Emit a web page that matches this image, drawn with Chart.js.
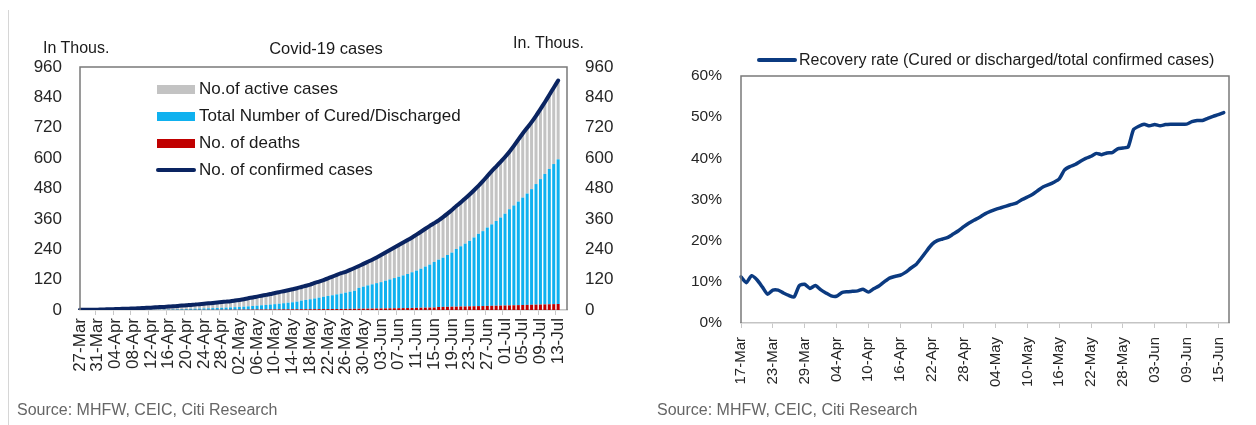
<!DOCTYPE html>
<html>
<head>
<meta charset="utf-8">
<script src="https://cdn.jsdelivr.net/npm/chart.js@4.4.1/dist/chart.umd.min.js"></script>
<style>
  html, body { margin: 0; padding: 0; background: #fff; }
  body { width: 1256px; height: 425px; position: relative; overflow: hidden;
         font-family: 'Liberation Sans', Arial, sans-serif; color: #1a1a1a; }
  canvas { position: absolute; top: 0; }
  .t { position: absolute; white-space: nowrap; line-height: 20px; }
  .sw { position: absolute; }
</style>
</head>
<body>
<div style="position:absolute;left:8px;top:10px;width:1px;height:415px;background:#d6d6d6"></div>

<canvas id="cases" width="640" height="425" style="left:0"></canvas>
<canvas id="recovery" width="616" height="425" style="left:640px"></canvas>

<!-- left chart texts -->
<div class="t" style="left:43px;top:38px;font-size:16px">In Thous.</div>
<div class="t" style="left:326px;top:38px;font-size:16.5px;transform:translateX(-50%)">Covid-19 cases</div>
<div class="t" style="left:513px;top:33px;font-size:16px">In. Thous.</div>

<div class="sw" style="left:157px;top:84.5px;width:38px;height:9px;background:#c3c3c3"></div>
<div class="t" style="left:199px;top:79px;font-size:17px">No.of active cases</div>
<div class="sw" style="left:157px;top:111.5px;width:38px;height:9px;background:#0fb1ef"></div>
<div class="t" style="left:199px;top:106px;font-size:17px">Total Number of Cured/Discharged</div>
<div class="sw" style="left:157px;top:138.5px;width:38px;height:9px;background:#c00000"></div>
<div class="t" style="left:199px;top:133px;font-size:17px">No. of deaths</div>
<div class="sw" style="left:156px;top:168.3px;width:40px;height:3.5px;border-radius:2px;background:#0a2461"></div>
<div class="t" style="left:199px;top:160px;font-size:17px">No. of confirmed cases</div>

<div class="t" style="left:17px;top:399.5px;font-size:16px;color:#666">Source: MHFW, CEIC, Citi Research</div>

<!-- right chart texts -->
<div class="sw" style="left:757px;top:57.7px;width:40px;height:4px;border-radius:2px;background:#0b3a80"></div>
<div class="t" style="left:799px;top:49.5px;font-size:16px">Recovery rate (Cured or discharged/total confirmed cases)</div>

<div class="t" style="left:657px;top:399.5px;font-size:16px;color:#666">Source: MHFW, CEIC, Citi Research</div>

<script>
// ---- left chart: cases in thousands, 27-Mar .. 13-Jul (axis runs to 15-Jul)
const caseDates = [
  '27-Mar','28-Mar','29-Mar','30-Mar','31-Mar',
  '01-Apr','02-Apr','03-Apr','04-Apr','05-Apr','06-Apr','07-Apr','08-Apr','09-Apr','10-Apr',
  '11-Apr','12-Apr','13-Apr','14-Apr','15-Apr','16-Apr','17-Apr','18-Apr','19-Apr','20-Apr',
  '21-Apr','22-Apr','23-Apr','24-Apr','25-Apr','26-Apr','27-Apr','28-Apr','29-Apr','30-Apr',
  '01-May','02-May','03-May','04-May','05-May','06-May','07-May','08-May','09-May','10-May',
  '11-May','12-May','13-May','14-May','15-May','16-May','17-May','18-May','19-May','20-May',
  '21-May','22-May','23-May','24-May','25-May','26-May','27-May','28-May','29-May','30-May','31-May',
  '01-Jun','02-Jun','03-Jun','04-Jun','05-Jun','06-Jun','07-Jun','08-Jun','09-Jun','10-Jun',
  '11-Jun','12-Jun','13-Jun','14-Jun','15-Jun','16-Jun','17-Jun','18-Jun','19-Jun','20-Jun',
  '21-Jun','22-Jun','23-Jun','24-Jun','25-Jun','26-Jun','27-Jun','28-Jun','29-Jun','30-Jun',
  '01-Jul','02-Jul','03-Jul','04-Jul','05-Jul','06-Jul','07-Jul','08-Jul','09-Jul','10-Jul',
  '11-Jul','12-Jul','13-Jul','14-Jul','15-Jul'
];

const confirmedCases = [
  0.89, 0.99, 1.02, 1.25, 1.40,
  2.00, 2.54, 3.06, 3.59, 4.29, 4.78, 5.31, 5.92, 6.73, 7.60,
  8.45, 9.21, 10.45, 11.49, 12.32, 13.43, 14.35, 15.72, 17.62, 18.54,
  20.08, 21.37, 23.08, 24.53, 26.28, 27.89, 29.45, 31.32, 33.06, 34.86,
  37.26, 39.70, 42.51, 46.44, 49.40, 52.99, 56.35, 59.66, 62.94, 67.15,
  70.76, 74.28, 78.00, 81.97, 85.94, 90.93, 95.70, 100.33, 106.75, 112.36,
  118.45, 124.79, 131.87, 138.85, 145.38, 150.79, 158.33, 165.80, 173.76, 182.14, 190.54,
  198.71, 207.62, 216.92, 226.77, 236.66, 246.63, 256.61, 266.60, 276.58, 286.58,
  297.54, 308.99, 320.92, 332.42, 343.09, 354.07, 366.95, 380.53, 395.05, 410.46,
  425.28, 440.22, 456.18, 473.11, 490.40, 508.95, 528.86, 548.32, 566.84, 585.49,
  604.64, 625.54, 648.32, 673.17, 697.41, 719.67, 742.42, 767.30, 793.80, 820.92,
  849.55, 878.25, 906.75
];

const curedCases = [
  0.07, 0.09, 0.10, 0.10, 0.13,
  0.16, 0.19, 0.23, 0.28, 0.33, 0.38, 0.47, 0.56, 0.64, 0.77,
  0.97, 1.08, 1.19, 1.36, 1.53, 1.75, 2.04, 2.46, 2.85, 3.27,
  3.98, 4.37, 5.01, 5.50, 5.94, 6.52, 7.14, 7.75, 8.44, 9.07,
  10.02, 10.82, 11.78, 12.85, 14.18, 15.33, 16.78, 17.89, 19.36, 20.92,
  22.55, 24.39, 26.23, 27.92, 30.26, 34.11, 36.80, 39.23, 42.30, 45.42,
  48.53, 51.82, 54.38, 57.72, 60.71, 64.28, 67.75, 71.11, 82.37, 86.98, 91.82,
  95.75, 100.29, 104.07, 109.46, 114.07, 119.29, 124.09, 129.09, 134.67, 141.03,
  147.19, 154.33, 162.38, 169.80, 180.01, 186.93, 194.44, 204.71, 213.83, 227.76,
  238.05, 248.19, 258.69, 271.70, 285.64, 295.88, 309.71, 321.77, 334.82, 347.91,
  362.68, 379.89, 394.23, 409.08, 424.43, 439.95, 456.83, 476.38, 495.51, 515.39,
  534.62, 553.47, 571.46
];

const deathCases = [
  0.02, 0.02, 0.03, 0.03, 0.04,
  0.06, 0.07, 0.09, 0.10, 0.12, 0.14, 0.16, 0.18, 0.23, 0.25,
  0.29, 0.33, 0.36, 0.39, 0.42, 0.45, 0.49, 0.52, 0.56, 0.59,
  0.65, 0.69, 0.72, 0.78, 0.83, 0.88, 0.94, 1.01, 1.08, 1.15,
  1.22, 1.32, 1.39, 1.57, 1.69, 1.79, 1.89, 1.99, 2.11, 2.21,
  2.29, 2.42, 2.55, 2.65, 2.75, 2.87, 3.03, 3.16, 3.30, 3.44,
  3.58, 3.72, 3.87, 4.02, 4.17, 4.34, 4.53, 4.71, 4.97, 5.16, 5.39,
  5.60, 5.82, 6.09, 6.35, 6.65, 6.94, 7.20, 7.47, 7.75, 8.10,
  8.50, 8.88, 9.20, 9.52, 9.92, 11.92, 12.26, 12.60, 12.97, 13.28,
  13.70, 14.01, 14.48, 14.89, 15.30, 15.69, 16.10, 16.48, 16.89, 17.40,
  17.83, 18.21, 18.66, 19.27, 19.69, 20.16, 20.64, 21.13, 21.60, 22.12,
  22.67, 23.17, 23.73
];

const activeCases = [
  0.80, 0.88, 0.89, 1.12, 1.23,
  1.78, 2.28, 2.74, 3.21, 3.84, 4.26, 4.68, 5.18, 5.86, 6.58,
  7.19, 7.80, 8.90, 9.74, 10.37, 11.23, 11.82, 12.74, 14.21, 14.68,
  15.45, 16.31, 17.35, 18.25, 19.51, 20.49, 21.37, 22.56, 23.54, 24.64,
  26.02, 27.56, 29.34, 32.02, 33.53, 35.87, 37.68, 39.78, 41.47, 44.02,
  45.92, 47.47, 49.22, 51.40, 52.93, 53.95, 55.87, 57.94, 61.15, 63.50,
  66.34, 69.25, 73.62, 77.11, 80.50, 82.17, 86.05, 89.98, 86.42, 90.00, 93.33,
  97.36, 101.51, 106.76, 110.96, 115.94, 120.40, 125.32, 130.04, 134.16, 137.45,
  141.85, 145.78, 149.34, 153.10, 153.16, 155.22, 160.25, 163.22, 168.25, 169.42,
  173.53, 178.02, 183.01, 186.52, 189.46, 197.38, 203.05, 210.07, 215.13, 220.18,
  224.13, 227.44, 235.43, 244.82, 253.29, 259.56, 264.95, 269.79, 276.69, 283.41,
  292.26, 301.61, 311.56
];

const caseTicks = [0, 120, 240, 360, 480, 600, 720, 840, 960];

// ---- right chart: recovery rate in %, 17-Mar .. 16-Jun (axis runs to 17-Jun)
const rateDates = [
  '17-Mar','18-Mar','19-Mar','20-Mar','21-Mar','22-Mar','23-Mar','24-Mar','25-Mar','26-Mar',
  '27-Mar','28-Mar','29-Mar','30-Mar','31-Mar',
  '01-Apr','02-Apr','03-Apr','04-Apr','05-Apr','06-Apr','07-Apr','08-Apr','09-Apr','10-Apr',
  '11-Apr','12-Apr','13-Apr','14-Apr','15-Apr','16-Apr','17-Apr','18-Apr','19-Apr','20-Apr',
  '21-Apr','22-Apr','23-Apr','24-Apr','25-Apr','26-Apr','27-Apr','28-Apr','29-Apr','30-Apr',
  '01-May','02-May','03-May','04-May','05-May','06-May','07-May','08-May','09-May','10-May',
  '11-May','12-May','13-May','14-May','15-May','16-May','17-May','18-May','19-May','20-May',
  '21-May','22-May','23-May','24-May','25-May','26-May','27-May','28-May','29-May','30-May','31-May',
  '01-Jun','02-Jun','03-Jun','04-Jun','05-Jun','06-Jun','07-Jun','08-Jun','09-Jun','10-Jun',
  '11-Jun','12-Jun','13-Jun','14-Jun','15-Jun','16-Jun','17-Jun'
];

const recoveryRate = [
  11.2, 9.8, 11.5, 10.5, 8.8, 7.0, 8.0, 8.0, 7.3, 6.7,
  6.3, 9.1, 9.4, 8.4, 9.1, 8.1, 7.3, 6.6, 6.5, 7.4,
  7.6, 7.7, 7.8, 8.2, 7.5, 8.3, 9.0, 10.0, 10.9, 11.3,
  11.6, 12.3, 13.3, 14.2, 15.8, 17.5, 19.1, 20.0, 20.4, 20.8,
  21.6, 22.4, 23.4, 24.3, 25.0, 25.7, 26.5, 27.1, 27.6, 28.0,
  28.4, 28.8, 29.2, 30.0, 30.6, 31.3, 32.2, 33.1, 33.6, 34.2,
  35.0, 37.2, 38.0, 38.5, 39.3, 40.0, 40.5, 41.2, 40.9, 41.3,
  41.4, 42.3, 42.5, 42.8, 47.0, 47.8, 48.3, 47.9, 48.2, 47.9,
  48.2, 48.3, 48.3, 48.3, 48.3, 48.9, 49.2, 49.2, 49.7, 50.2,
  50.6, 51.1
];

Chart.defaults.font.family = "'Liberation Sans', Arial, sans-serif";
Chart.defaults.color = '#262626';

// grey frame round the plot area (left, top, right)
const framePlugin = {
  id: 'frame',
  afterDraw(chart, args, opts) {
    const { ctx, chartArea: a } = chart;
    ctx.save();
    ctx.strokeStyle = opts.color;
    ctx.lineWidth = opts.width;
    ctx.beginPath();
    ctx.moveTo(a.left, a.bottom);
    ctx.lineTo(a.left, a.top);
    ctx.lineTo(a.right, a.top);
    ctx.lineTo(a.right, a.bottom);
    ctx.stroke();
    ctx.restore();
  }
};

function fixWidth(w) { return (scale) => { scale.width = w; }; }
function fixHeight(h) { return (scale) => { scale.height = h; }; }

new Chart(document.getElementById('cases'), {
  type: 'bar',
  data: {
    labels: caseDates,
    datasets: [
      { label: 'No. of deaths', data: deathCases, backgroundColor: '#c00000', order: 1 },
      { label: 'Total Number of Cured/Discharged', data: curedCases, backgroundColor: '#0fb1ef', order: 1 },
      { label: 'No.of active cases', data: activeCases, backgroundColor: '#c3c3c3', order: 1 },
      { type: 'line', label: 'No. of confirmed cases', data: confirmedCases, yAxisID: 'y2',
        borderColor: '#0a2461', borderWidth: 4, pointRadius: 0, tension: 0.2,
        borderCapStyle: 'round', borderJoinStyle: 'round', order: 0 }
    ]
  },
  options: {
    responsive: false,
    animation: false,
    devicePixelRatio: 1,
    layout: { padding: { top: 67, left: 0, right: 0, bottom: 0 } },
    datasets: { bar: { barPercentage: 1, categoryPercentage: 0.68 } },
    plugins: {
      legend: { display: false },
      tooltip: { enabled: false },
      frame: { color: '#7a7a7a', width: 1.5 }
    },
    scales: {
      x: {
        stacked: true,
        offset: false,
        afterFit: fixHeight(115),
        border: { display: true, color: '#c4c4c4', width: 1.5 },
        grid: {
          display: true, drawOnChartArea: false, drawTicks: true, tickLength: 5,
          tickColor: (c) => (c.index % 4 === 0 ? '#c8c8c8' : 'rgba(0,0,0,0)')
        },
        ticks: {
          autoSkip: false, maxRotation: 90, minRotation: 90, padding: 3,
          font: { size: 17 },
          callback: function (v, i) { return i % 4 === 0 ? this.getLabelForValue(v) : ''; }
        }
      },
      y: {
        stacked: true,
        position: 'left',
        min: 0, max: 960,
        afterFit: fixWidth(80),
        afterBuildTicks: (s) => { s.ticks = caseTicks.map((v) => ({ value: v })); },
        border: { display: false },
        grid: { display: false, drawTicks: false },
        ticks: { padding: 18, font: { size: 17 } }
      },
      y2: {
        position: 'right',
        min: 0, max: 960,
        afterFit: fixWidth(73),
        afterBuildTicks: (s) => { s.ticks = caseTicks.map((v) => ({ value: v })); },
        border: { display: false },
        grid: { display: false, drawTicks: false },
        ticks: { padding: 18, font: { size: 17 } }
      }
    }
  },
  plugins: [framePlugin]
});

new Chart(document.getElementById('recovery'), {
  type: 'line',
  data: {
    labels: rateDates,
    datasets: [
      { label: 'Recovery rate (Cured or discharged/total confirmed cases)', data: recoveryRate,
        borderColor: '#0b3a80', borderWidth: 3.5, pointRadius: 0, tension: 0.2,
        borderCapStyle: 'round', borderJoinStyle: 'round' }
    ]
  },
  options: {
    responsive: false,
    animation: false,
    devicePixelRatio: 1,
    layout: { padding: { top: 76, left: 0, right: 18, bottom: 0 } },
    plugins: {
      legend: { display: false },
      tooltip: { enabled: false },
      frame: { color: '#7a7a7a', width: 1.5 }
    },
    scales: {
      x: {
        offset: false,
        afterFit: fixHeight(102),
        border: { display: true, color: '#c4c4c4', width: 1.5 },
        grid: {
          display: true, drawOnChartArea: false, drawTicks: true, tickLength: 5,
          tickColor: (c) => (c.index % 6 === 0 ? '#c8c8c8' : 'rgba(0,0,0,0)')
        },
        ticks: {
          autoSkip: false, maxRotation: 90, minRotation: 90, padding: 9,
          font: { size: 15 },
          callback: function (v, i) { return i % 6 === 0 ? this.getLabelForValue(v) : ''; }
        }
      },
      y: {
        min: 0, max: 60,
        afterFit: fixWidth(101),
        border: { display: false },
        grid: { display: false, drawTicks: false },
        ticks: { stepSize: 10, padding: 19, font: { size: 15.5 }, callback: (v) => v + '%' }
      }
    }
  },
  plugins: [framePlugin]
});
</script>
</body>
</html>
